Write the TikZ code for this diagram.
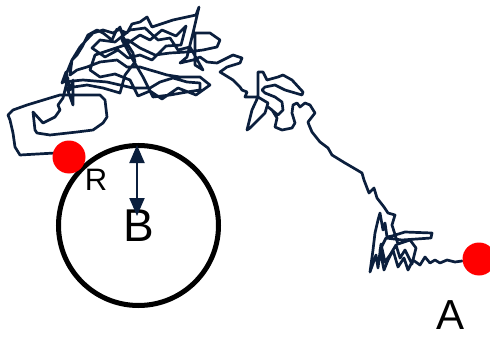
\documentclass[tikz,border=0pt]{standalone}
\usepackage{fontspec}
\setmainfont{Liberation Sans}
\usetikzlibrary{arrows.meta}
\definecolor{walk}{HTML}{0B1F3D}
\definecolor{dotred}{HTML}{FF0000}
\tikzset{
  walkline/.style={draw=walk, line width=2.7pt, line join=round, line cap=round},
  reddot/.style={circle, fill=dotred, minimum size=33pt, inner sep=0pt},
  bigcirc/.style={circle, draw=black, line width=5pt, minimum size=160pt, inner sep=0pt, font=\fontsize{46}{46}\selectfont},
  radarrow/.style={draw=walk, line width=2pt, {Triangle[width=15pt,length=18pt]}-{Triangle[width=15pt,length=18pt]}},
  lbl/.style={inner sep=0pt}
}
\begin{document}
\begin{tikzpicture}[x=1pt,y=-1pt]
\useasboundingbox (0,0) rectangle (490,337);
% random walk
\draw[walkline]
 (462,261) -- (455,262) -- (447,260) -- (440,263) -- (435,260) -- (430,263) -- (425,257) -- (420,265)
 -- (413,260) -- (408,270) -- (404,258) -- (398,267) -- (393,250) -- (388,260) -- (384,270) -- (380,250)
 -- (386,238) -- (402,240) -- (431,238) -- (432,233) -- (405,232) -- (392,236) -- (387,237) -- (385,223)
 -- (383,230) -- (380,213) -- (378,220) -- (375,233) -- (373,250) -- (370,272) -- (376,255) -- (378,268)
 -- (381,244) -- (385,262) -- (390,255) -- (396,245) -- (400,258) -- (405,250) -- (412,264) -- (416,248)
 -- (410,240) -- (398,244) -- (392,225) -- (395,215) -- (388,213)
 -- (384,207) -- (377,198) -- (374,188) -- (369,193) -- (364,180) -- (362,173) -- (357,170) -- (345,163)
 -- (332,155) -- (328,148) -- (320,142) -- (312,132) -- (309,125) -- (308,122)
 -- (315,113) -- (310,105) -- (305,103) -- (300,107) -- (297,103) -- (293,105) -- (292,113) -- (295,123)
 -- (292,128) -- (282,130) -- (275,127) -- (277,118) -- (272,110) -- (268,107) -- (278,115) -- (283,110)
 -- (282,102) -- (275,97) -- (265,93) -- (262,90) -- (265,87) -- (275,85) -- (285,90) -- (302,95)
 -- (303,92) -- (292,80) -- (283,75) -- (278,77) -- (267,80) -- (263,72) -- (258,72) -- (258,97)
 -- (252,110) -- (247,130) -- (250,128) -- (258,120) -- (265,113) -- (268,103) -- (258,97) -- (248,97)
 -- (245,97) -- (247,92) -- (242,90) -- (240,87) -- (233,80) -- (220,72) -- (227,67) -- (240,63)
 -- (242,58) -- (233,55) -- (227,58) -- (217,63) -- (207,62) -- (200,57) -- (193,60) -- (180,63)
 -- (187,57) -- (193,33) -- (199,7) -- (196,15) -- (173,20) -- (152,27) -- (147,17) -- (140,22)
 -- (132,24) -- (127,33) -- (117,29) -- (112,40) -- (103,33) -- (97,30) -- (88,35) -- (82,47)
 -- (77,55) -- (72,60) -- (70,75) -- (77,70) -- (87,67) -- (100,62) -- (117,60) -- (127,67)
 -- (140,67) -- (150,70) -- (157,72) -- (167,75) -- (180,77) -- (200,77) -- (210,85) -- (196,95)
 -- (178,88) -- (162,99) -- (150,91) -- (138,96) -- (130,80) -- (115,74) -- (100,77) -- (90,70)
 -- (95,55) -- (110,50) -- (125,45) -- (140,35) -- (150,40) -- (162,30) -- (176,36) -- (186,26)
 -- (181,45) -- (166,46) -- (152,60) -- (140,55) -- (128,58) -- (118,50) -- (105,57) -- (92,48)
 -- (100,40) -- (115,42) -- (130,30) -- (145,28) -- (158,40) -- (170,38) -- (178,50) -- (190,47)
 -- (203,70) -- (195,65)
 -- (195,33) -- (210,33) -- (220,40) -- (217,47) -- (203,50) -- (187,52) -- (170,53) -- (155,55)
 -- (140,48) -- (128,40) -- (122,40) -- (133,60) -- (143,77) -- (153,97) -- (170,95) -- (187,92)
 -- (200,90) -- (200,83) -- (187,82) -- (173,78) -- (160,82) -- (150,88) -- (133,88) -- (120,85)
 -- (107,82) -- (83,80) -- (63,82) -- (72,60) -- (80,47) -- (93,33) -- (103,30) -- (113,33)
 -- (118,30) -- (120,27) -- (123,37) -- (133,53) -- (135,62) -- (125,75) -- (120,93) -- (103,88)
 -- (87,85) -- (67,88) -- (73,105) -- (73,80) -- (70,90) -- (66,72) -- (62,83) -- (68,78) -- (63,98)
 -- (58,105) -- (60,110) -- (55,117) -- (43,123) -- (33,112) -- (35,130) -- (37,133) -- (50,135)
 -- (77,132) -- (93,130) -- (103,123) -- (107,117) -- (105,100) -- (100,95) -- (60,95) -- (50,98)
 -- (27,105) -- (13,110) -- (8,115) -- (10,120) -- (13,133) -- (15,147) -- (20,155) -- (55,153)
 -- (69,156);
% circle B
\node[bigcirc] (B) at (138.5,225.5) {B};
% radius arrow
\coordinate (rtop) at (137,145);
\coordinate (rbot) at (137,216);
\draw[radarrow] (rbot) -- (rtop);
% dots
\node[reddot] (dotB) at (69,157) {};
\node[reddot] (dotA) at (479,259) {};
% labels
\node[lbl, font=\fontsize{31}{31}\selectfont] (R) at (96,180) {R};
\node[lbl, font=\fontsize{42}{42}\selectfont] (A) at (451,315) {A};
\end{tikzpicture}
\end{document}
